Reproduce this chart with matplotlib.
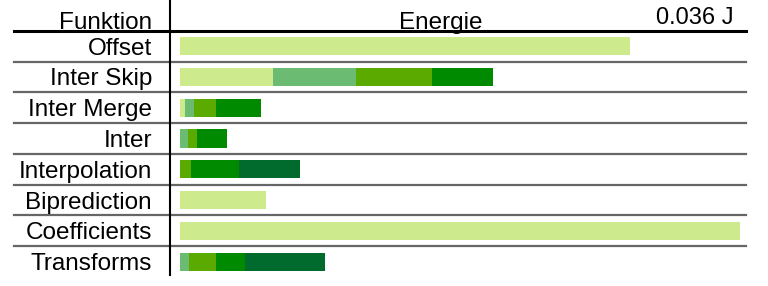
import matplotlib
matplotlib.use("Agg")
import matplotlib.pyplot as plt
import numpy as np

plt.rcParams['font.family'] = ['Liberation Sans', 'DejaVu Sans']

funktionen = ['Offset', 'Inter Skip', 'Inter Merge', 'Inter', 'Interpolation',
              'Biprediction', 'Coefficients', 'Transforms']

# energy per component (J), stacked left to right
teil1 = [0.0289, 0.0060, 0.0003, 0.0000, 0.0000, 0.0055, 0.0360, 0.0000]
teil2 = [0.0000, 0.0053, 0.0006, 0.0005, 0.0000, 0.0000, 0.0000, 0.0006]
teil3 = [0.0000, 0.0049, 0.0014, 0.0006, 0.0007, 0.0000, 0.0000, 0.0017]
teil4 = [0.0000, 0.0039, 0.0029, 0.0019, 0.0031, 0.0000, 0.0000, 0.0019]
teil5 = [0.0000, 0.0000, 0.0000, 0.0000, 0.0039, 0.0000, 0.0000, 0.0051]
max_label = '0.036 J'

farben = ['#cdea8c', '#6bbb72', '#5aaa00', '#008a00', '#006b2d']

W, H = 768, 286
fig = plt.figure(figsize=(W / 100, H / 100), dpi=100)
ax = fig.add_axes([170 / W, (H - 277) / H, (746 - 170) / W, 277 / H])

y = np.arange(len(funktionen))
left = np.zeros(len(funktionen))
for werte, farbe in zip([teil1, teil2, teil3, teil4, teil5], farben):
    ax.barh(y, werte, left=left, height=0.59, color=farbe, linewidth=0)
    left += np.array(werte)

scale = 0.036 / 560
ax.set_xlim(-10 * scale, 566 * scale)
ax.set_ylim(len(funktionen) - 0.5, -1.5)

for s in ['top', 'right', 'bottom']:
    ax.spines[s].set_visible(False)
ax.spines['left'].set_linewidth(1.5)
ax.spines['left'].set_bounds(len(funktionen) - 0.57, -1.5)
ax.set_xticks([])
ax.set_yticks([])

tr = ax.get_yaxis_transform()
x0 = (14 - 170) / 576
ax.plot([x0, 1], [-0.5, -0.5], transform=tr, color='black', lw=2.2, clip_on=False)
for i in range(len(funktionen) - 1):
    ax.plot([x0, 1], [i + 0.5, i + 0.5], transform=tr, color='#666666', lw=1.6,
            clip_on=False)

xt = (152 - 170) / 576
for i, name in enumerate(funktionen):
    ax.text(xt, i + 0.08, name, transform=tr, ha='right', va='center', fontsize=17.5)

ax.text(xt, -0.56, 'Funktion', transform=tr, ha='right', va='baseline', fontsize=17.5)
ax.text((441 - 170) / 576, -0.56, 'Energie', transform=tr, ha='center',
        va='baseline', fontsize=17.5)
ax.text((733 - 170) / 576, -0.72, max_label, transform=tr, ha='right',
        va='baseline', fontsize=17)

fig.savefig('out.png', dpi=100)
